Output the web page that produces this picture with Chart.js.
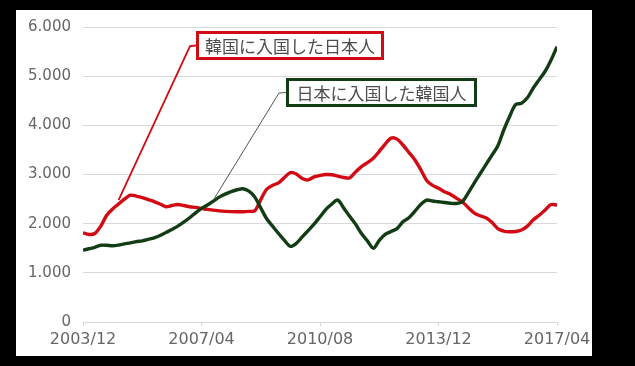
<!DOCTYPE html>
<html>
<head>
<meta charset="utf-8">
<script src="https://cdn.jsdelivr.net/npm/chart.js@4"></script>
<style>
  html, body { margin: 0; padding: 0; background: #000; }
  #wrap { width: 635px; height: 366px; }
</style>
</head>
<body>
<div id="wrap"><canvas id="myChart" width="635" height="366"></canvas></div>
<script>
// months since 2003/12, one value every 2 months
const stepMonths = 2;
const tickLabels = ['2003/12', '2007/04', '2010/08', '2013/12', '2017/04'];
const yTicks = [0, 1000, 2000, 3000, 4000, 5000, 6000];

// 韓国に入国した日本人
const japanToKorea = [
  1815, 1780, 1800, 1950, 2170, 2300, 2400, 2500, 2580, 2560,
  2530, 2490, 2450, 2400, 2345, 2370, 2390, 2370, 2345, 2330,
  2310, 2290, 2275, 2260, 2250, 2245, 2242, 2242, 2250, 2262,
  2490, 2700, 2780, 2830, 2940, 3040, 3010, 2920, 2890, 2950,
  2980, 3000, 2995, 2967, 2940, 2930, 3050, 3160, 3240, 3330,
  3470, 3620, 3740, 3720, 3600, 3450, 3300, 3100, 2880, 2780,
  2720, 2650, 2600, 2520, 2445, 2330, 2220, 2160, 2120, 2030,
  1900, 1850, 1835, 1840, 1870, 1950, 2080, 2170, 2280, 2390,
  2378
];

// 日本に入国した韓国人
const koreaToJapan = [
  1460, 1490, 1520, 1560, 1560, 1550, 1565, 1590, 1610, 1635,
  1650, 1680, 1710, 1760, 1820, 1880, 1950, 2030, 2120, 2220,
  2310, 2380, 2460, 2540, 2600, 2650, 2690, 2710, 2660, 2540,
  2320, 2100, 1950, 1800, 1660, 1540, 1600, 1730, 1860, 1990,
  2140, 2290, 2400, 2480, 2320, 2150, 1990, 1800, 1650, 1500,
  1660, 1780, 1840, 1900, 2040, 2120, 2250, 2390, 2480, 2460,
  2445, 2430, 2415, 2410, 2445, 2620, 2820, 3010, 3200, 3390,
  3580, 3900, 4180, 4420, 4450, 4560, 4760, 4930, 5100, 5330,
  5600
];

const labelJapanese = '韓国に入国した日本人';
const labelKorean = '日本に入国した韓国人';

const RED = '#d20a14';
const GREEN = '#123d14';

function toPoints(arr) {
  return arr.map((v, i) => ({ x: i * stepMonths, y: v }));
}

// white panel behind the chart
const panel = {
  id: 'panel',
  beforeDraw(chart) {
    const c = chart.ctx;
    c.save();
    c.fillStyle = '#ffffff';
    c.fillRect(16, 10, 576, 346);
    c.restore();
  }
};

// the two callout boxes with their leader lines
const callouts = {
  id: 'callouts',
  afterDraw(chart) {
    const c = chart.ctx;
    const xs = chart.scales.x, ys = chart.scales.y;
    const items = [
      { text: labelJapanese, color: RED, lineColor: RED, lineW: 1.8,
        box: [196, 31, 188, 29], stub: [190, 46], end: [12, 2480] },
      { text: labelKorean, color: GREEN, lineColor: '#4a5a4a', lineW: 1,
        box: [286, 78, 191, 29], stub: [279, 93], end: [44, 2480] }
    ];
    c.save();
    items.forEach(it => {
      const [bx, by, bw, bh] = it.box;
      c.strokeStyle = it.lineColor;
      c.lineWidth = it.lineW;
      c.beginPath();
      c.moveTo(xs.getPixelForValue(it.end[0]), ys.getPixelForValue(it.end[1]));
      c.lineTo(it.stub[0], it.stub[1]);
      c.lineTo(bx, by + bh / 2);
      c.stroke();

      c.fillStyle = '#ffffff';
      c.fillRect(bx, by, bw, bh);
      c.strokeStyle = it.color;
      c.lineWidth = 3;
      c.strokeRect(bx + 1.5, by + 1.5, bw - 3, bh - 3);

      c.fillStyle = '#4d4d4d';
      c.font = '17px "Noto Sans CJK JP"';
      c.textAlign = 'center';
      c.textBaseline = 'middle';
      c.fillText(it.text, bx + bw / 2, by + bh / 2 + 1);
    });
    c.restore();
  }
};

const ctx = document.getElementById('myChart').getContext('2d');
const myChart = new Chart(ctx, {
  type: 'line',
  data: {
    datasets: [
      {
        label: labelKorean,
        data: toPoints(koreaToJapan),
        borderColor: GREEN,
        borderWidth: 3.4,
        pointRadius: 0,
        tension: 0.3
      },
      {
        label: labelJapanese,
        data: toPoints(japanToKorea),
        borderColor: RED,
        borderWidth: 3.4,
        pointRadius: 0,
        tension: 0.3
      }
    ]
  },
  options: {
    responsive: false,
    animation: false,
    layout: { padding: { left: 0, right: 78, top: 27, bottom: 0 } },
    plugins: {
      legend: { display: false },
      tooltip: { enabled: false }
    },
    scales: {
      x: {
        type: 'linear',
        min: 0,
        max: 160,
        afterFit: s => { s.height = 44; },
        afterBuildTicks: s => { s.ticks = tickLabels.map((t, i) => ({ value: i * 40 })); },
        grid: { drawOnChartArea: false, color: '#d9d9d9', tickLength: 4 },
        border: { color: '#d9d9d9' },
        ticks: {
          padding: 4,
          color: '#666666',
          font: { family: 'DejaVu Sans', size: 16 },
          maxRotation: 0,
          autoSkip: false,
          callback: (v, i) => tickLabels[i]
        }
      },
      y: {
        min: 0,
        max: 6000,
        afterFit: s => { s.width = 83; },
        afterBuildTicks: s => { s.ticks = yTicks.map(v => ({ value: v })); },
        grid: { color: '#d9d9d9', drawTicks: false },
        border: { display: false },
        ticks: {
          padding: 12,
          color: '#666666',
          font: { family: 'DejaVu Sans', size: 15 },
          callback: v => v.toLocaleString('de-DE')
        }
      }
    }
  },
  plugins: [panel, callouts]
});
</script>
</body>
</html>
